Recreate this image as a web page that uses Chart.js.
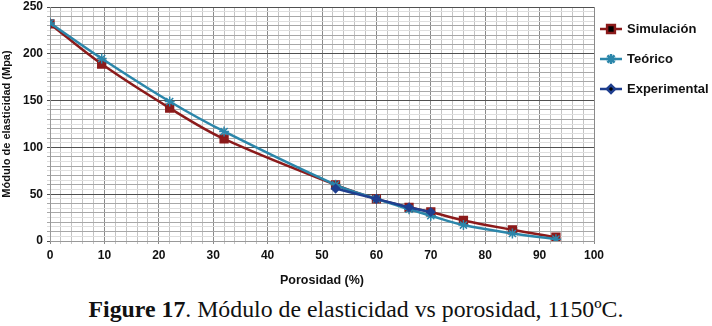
<!DOCTYPE html>
<html><head><meta charset="utf-8">
<script src="https://cdn.jsdelivr.net/npm/chart.js@4/dist/chart.umd.min.js"></script>
<style>
html,body{margin:0;padding:0;background:#fff;width:712px;height:326px;overflow:hidden}
#wrap{position:absolute;left:0;top:0;width:712px;height:290px}
#cap{position:absolute;left:0;top:296px;width:712px;text-align:center;font-family:"Liberation Serif","Times New Roman",serif;font-size:23.8px;line-height:27px;color:#111;white-space:nowrap}
</style></head><body>
<div id="wrap"><canvas id="c" width="712" height="290"></canvas></div>
<div id="cap"><b>Figure 17</b>. Módulo de elasticidad vs porosidad, 1150ºC.</div>
<script>
const porosidad = [0, 9.5, 22, 32, 52.5, 60, 66, 70, 76, 85, 93];
const simulacion = [232, 189, 142, 109, 60, 45, 36, 31, 22, 12, 4];
const teorico = [233, 195, 149, 117, 60, 45, 34, 27, 17, 8, 2];
const porosidadExp = [52.5, 60, 66, 70];
const experimental = [56, 45, 36, 31];
const seriesNames = ["Simulación", "Teórico", "Experimental"];
const xTicks = [0, 10, 20, 30, 40, 50, 60, 70, 80, 90, 100];
const yTicks = [0, 50, 100, 150, 200, 250];

const pts = (xs, ys) => xs.map((x, i) => ({x, y: ys[i]}));
const FONT = "'Liberation Sans', Arial, sans-serif";

const legendPlugin = {
  id: 'sideLegend',
  afterDraw(chart) {
    const ctx = chart.ctx;
    const ys = [29, 59, 89];
    chart.data.datasets.forEach((ds, i) => {
      const y = ys[i];
      ctx.save();
      ctx.strokeStyle = ds.borderColor;
      ctx.lineWidth = 2.5;
      ctx.beginPath(); ctx.moveTo(600, y); ctx.lineTo(622, y); ctx.stroke();
      Chart.helpers.drawPoint(ctx, {pointStyle: ds.pointStyle, radius: ds.pointRadius, borderWidth: ds.pointBorderWidth || 1.5, rotation: 0}, 611, y);
      ctx.fillStyle = '#111';
      ctx.font = 'bold 13px ' + FONT;
      ctx.textBaseline = 'middle';
      ctx.fillText(ds.label, 627, y);
      ctx.restore();
    });
  }
};

const mk = (label, data, color, style, radius, order) => ({
  label, data, borderColor: color, backgroundColor: color,
  pointBackgroundColor: color, pointBorderColor: color,
  pointStyle: style, pointRadius: radius, pointHoverRadius: radius,
  pointBorderWidth: 1.5, borderWidth: 2.5, tension: 0.35, fill: false, order
});

new Chart(document.getElementById('c'), {
  type: 'line',
  data: {
    datasets: [
      mk(seriesNames[0], pts(porosidad, simulacion), '#8B1A1A', 'rect', 5.5, 3),
      mk(seriesNames[1], pts(porosidad, teorico), '#2B86AA', 'star', 5, 2),
      mk(seriesNames[2], pts(porosidadExp, experimental), '#1F3F8F', 'rectRot', 4, 1)
    ]
  },
  options: {
    responsive: false, animation: false, devicePixelRatio: 1,
    layout: {padding: {left: 0, right: 118, top: 7, bottom: 0}},
    plugins: {legend: {display: false}, tooltip: {enabled: false}},
    scales: {
      x: {
        type: 'linear', min: 0, max: 100,
        afterBuildTicks(s) { const t = []; for (let v = 0; v <= 100; v += 2) t.push({value: v}); s.ticks = t; },
        afterFit(s) { s.height = 49; },
        ticks: {autoSkip: false, maxRotation: 0, padding: 4, color: '#111',
          font: {family: FONT, size: 12, weight: 'bold'},
          callback: v => xTicks.includes(v) ? String(v) : ''},
        grid: {color: c => (c.tick && c.tick.value % 10 === 0) ? '#8a8a8a' : '#c4c4c4', tickLength: 3, lineWidth: 1},
        border: {color: '#999'},
        title: {display: true, text: 'Porosidad (%)', color: '#111', font: {family: FONT, size: 12.5, weight: 'bold'}, padding: {top: 4, bottom: 2}}
      },
      y: {
        min: 0, max: 250,
        afterBuildTicks(s) { const t = []; for (let v = 0; v <= 250; v += 5) t.push({value: v}); s.ticks = t; },
        afterFit(s) { s.width = 50; s.paddingTop = 0; },
        ticks: {autoSkip: false, padding: 4, color: '#111',
          font: {family: FONT, size: 12, weight: 'bold', lineHeight: 1},
          callback: v => yTicks.includes(v) ? String(v) : ''},
        grid: {color: c => { const v = c.tick ? c.tick.value : 0; return v % 50 === 0 ? '#505050' : (v % 10 === 0 ? '#a8a8a8' : '#dedede'); }, tickLength: 3, lineWidth: 1},
        border: {color: '#999'},
        title: {display: true, text: 'Módulo de elasticidad (Mpa)', color: '#111', font: {family: FONT, size: 11, weight: 'bold'}, padding: {top: 0, bottom: 2}}
      }
    }
  },
  plugins: [legendPlugin]
});
</script>
</body></html>
